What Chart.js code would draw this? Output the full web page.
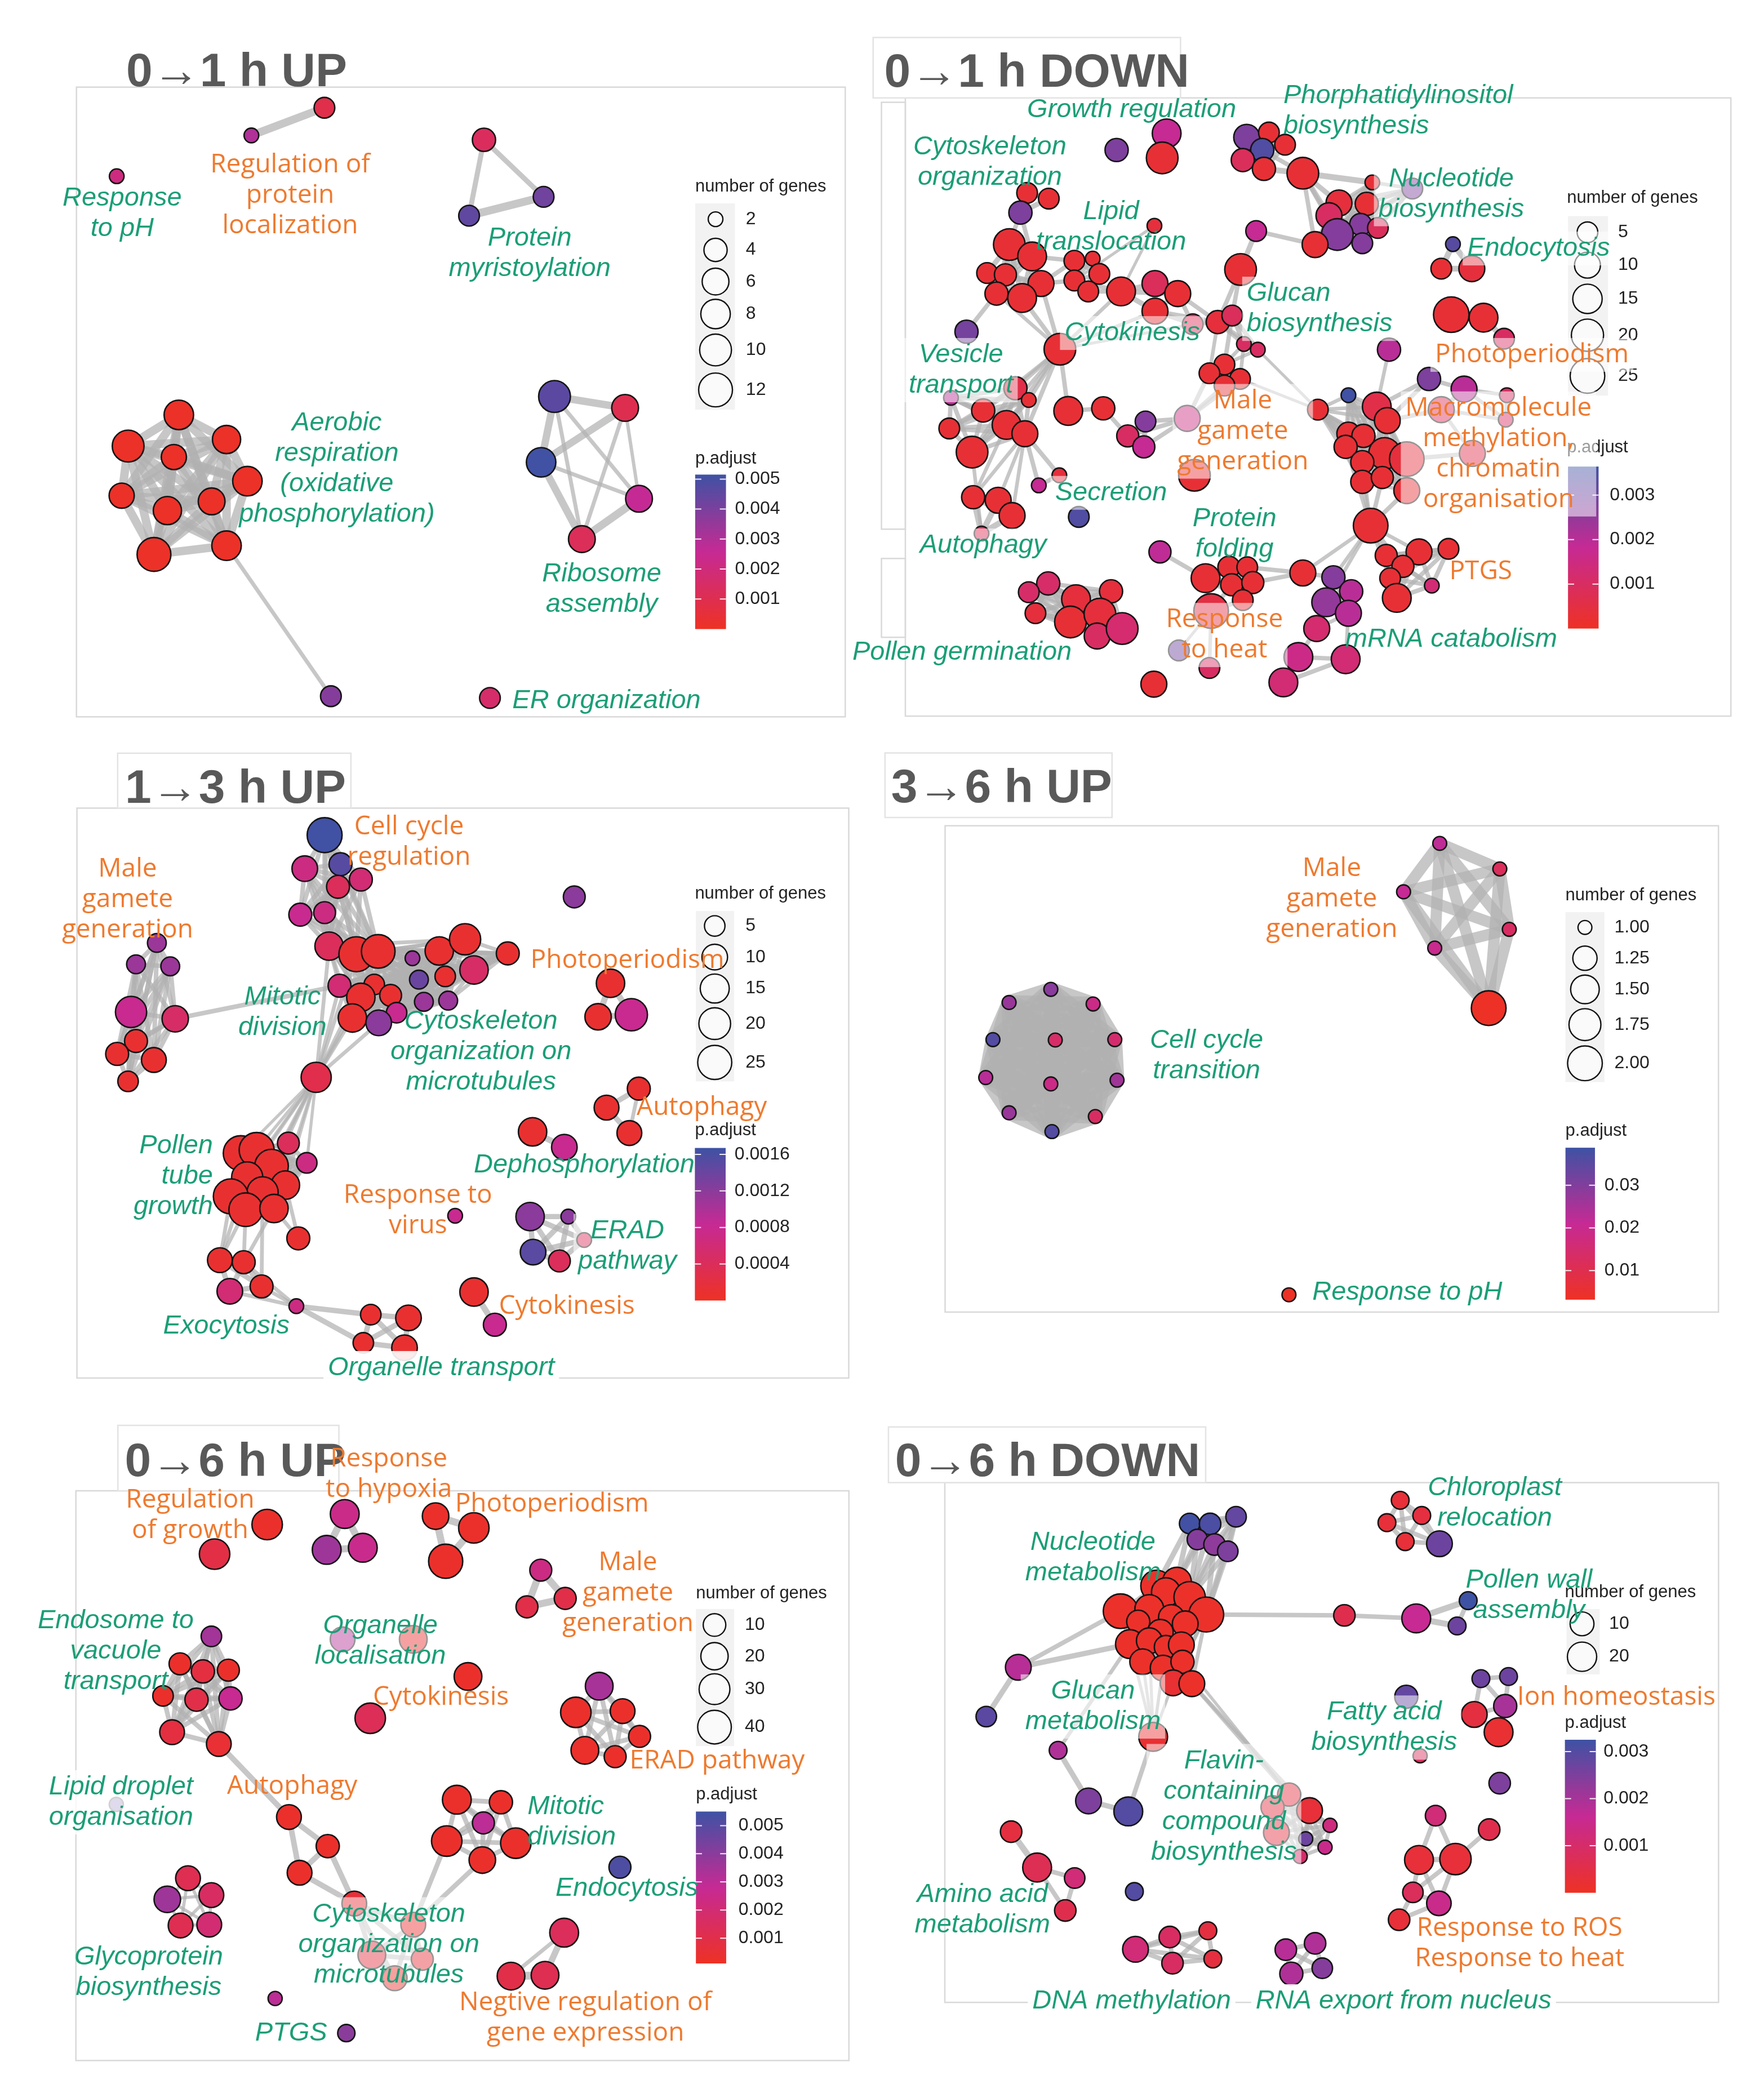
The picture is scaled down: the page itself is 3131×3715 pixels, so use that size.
<!DOCTYPE html>
<html><head><meta charset="utf-8">
<script src="https://cdn.jsdelivr.net/npm/chart.js@4.4.1/dist/chart.umd.min.js"></script>
<style>
html,body{margin:0;padding:0;background:#fff;}
#fig{position:relative;width:3131px;height:3715px;overflow:hidden;background:#fff;}
#fig canvas{position:absolute;}
</style></head><body><div id="fig"></div>
<script>
// ================= DATA =================
// node = [layoutX, layoutY, numberOfGenes, p.adjust]; cliques = [edgeWeight, [members]]; edges = [i, j, weight]
// labels = [text, x, y, class('g' = green italic, 'o' = orange), align, boxAlpha]

// ---- 0→1 h UP ----
const p1Title = "0→1 h UP";
const p1Nodes = [
 [89,323,2,0.0021],[360,230,2,0.0030],[507,167,3,0.0009],[828,240,4,0.0013],[948,370,3,0.0042],[798,413,3,0.0045],
 [214,867,8,0.0001],[112,938,10,0.0001],[310,923,7,0.0001],[204,963,5,0.0001],[352,1018,8,0.0001],
 [99,1051,5,0.0001],[191,1085,7,0.0001],[280,1064,6,0.0001],[164,1185,12,0.0001],[310,1165,8,0.0001],
 [520,1508,3,0.0038],
 [970,825,10,0.0046],[1112,851,6,0.0010],[943,975,8,0.0051],[1140,1058,6,0.0026],[1025,1150,6,0.0012],
 [840,1512,3,0.0016]
];
const p1Cliques = [[15,[6,7,8,9,10,11,12,13,14,15]]];
const p1Edges = [[1,2,14],[3,4,9],[3,5,9],[4,5,14],[15,16,7],
 [17,18,13],[17,19,13],[17,20,7],[17,21,7],[18,19,13],[18,21,7],[18,20,6],[19,20,7],[19,21,13],[20,21,14]];
const p1Labels = [
 ["Response\nto pH",100,373,'g','center',0],
 ["Regulation of\nprotein\nlocalization",438,297,'o','center',0],
 ["Protein\nmyristoylation",920,465,'g','center',0],
 ["Aerobic\nrespiration\n(oxidative\nphosphorylation)",532,885,'g','center',0],
 ["Ribosome\nassembly",1065,1230,'g','center',0],
 ["ER organization",885,1518,'g','left',0]
];
const p1SizeBreaks = [2,4,6,8,10,12];
const p1PBreaks = [0.001,0.002,0.003,0.004,0.005];
const p1PLimits = [0,0.00515];

// ---- 0→1 h DOWN ----
const p2Title = "0→1 h DOWN";
const p2Nodes = [
 [528,224,14,0.0018],[520,280,19,0.0003],[438,262,7,0.0028],[672,233,10,0.0028],[712,222,5,0.0003],[741,250,5,0.0003],
 [700,262,7,0.0034],[665,285,7,0.0009],[703,305,7,0.0003],[773,315,19,0.0003],[898,336,3,0.0003],[970,350,5,0.0028],
 [838,383,10,0.0004],[888,385,7,0.0003],[820,412,10,0.0010],[877,432,6,0.0027],[835,455,19,0.0027],[908,440,5,0.0009],
 [880,475,5,0.0027],[795,478,10,0.0003],[689,447,5,0.0018],[1043,477,3,0.0033],[1022,533,5,0.0003],[1077,533,10,0.0004],
 [1040,638,27,0.0003],[1098,645,14,0.0003],[1135,693,5,0.0010],[277,360,5,0.0003],[316,373,5,0.0003],[265,405,7,0.0028],
 [506,435,3,0.0004],[245,478,19,0.0003],[286,505,14,0.0003],[205,543,5,0.0003],[238,547,6,0.0003],[302,567,10,0.0003],
 [222,590,7,0.0003],[268,600,14,0.0003],[362,515,5,0.0003],[395,510,3,0.0003],[407,545,5,0.0003],[362,560,5,0.0003],
 [387,585,5,0.0003],[446,585,14,0.0003],[507,567,10,0.0009],[548,590,10,0.0003],[507,630,10,0.0003],[575,660,5,0.0008],
 [620,655,7,0.0004],[646,640,5,0.0009],[661,535,19,0.0003],[667,705,3,0.0010],[692,718,3,0.0010],[168,677,7,0.0029],
 [336,717,19,0.0003],[632,752,5,0.0003],[605,772,5,0.0003],[660,785,5,0.0003],[632,800,5,0.0003],[565,875,10,0.0015],
 [490,882,5,0.0027],[458,915,6,0.0010],[487,940,6,0.0018],[414,852,7,0.0003],[351,858,14,0.0003],[256,806,7,0.0006],
 [280,833,3,0.0003],[140,828,3,0.0020],[198,857,7,0.0003],[240,890,14,0.0003],[273,910,10,0.0003],[137,898,5,0.0003],
 [178,952,19,0.0003],[335,1005,3,0.0004],[298,1028,3,0.0018],[370,1100,5,0.0034],[180,1055,7,0.0003],[225,1062,10,0.0003],
 [250,1097,10,0.0003],[195,1138,3,0.0008],[578,1005,19,0.0003],[855,822,3,0.0036],[800,855,5,0.0003],[906,848,14,0.0006],
 [925,880,10,0.0003],[1000,785,7,0.0028],[1063,808,10,0.0020],[1140,822,3,0.0010],[1022,855,10,0.0008],[1138,878,3,0.0010],
 [855,910,7,0.0003],[882,915,7,0.0003],[850,940,7,0.0003],[920,955,19,0.0003],[960,968,25,0.0004],[880,975,7,0.0003],
 [1078,955,10,0.0006],[880,1020,7,0.0003],[916,1010,6,0.0003],[960,1040,10,0.0003],[895,1120,25,0.0003],[1035,1173,5,0.0003],
 [982,1180,10,0.0003],[923,1188,6,0.0003],[953,1213,6,0.0003],[930,1240,5,0.0003],[1005,1257,3,0.0013],[942,1285,14,0.0003],
 [516,1180,6,0.0019],[598,1240,14,0.0003],[640,1215,6,0.0003],[673,1215,5,0.0003],[645,1255,6,0.0003],[683,1250,6,0.0003],
 [665,1290,5,0.0003],[773,1228,10,0.0003],[828,1238,7,0.0027],[860,1270,7,0.0020],[815,1295,14,0.0025],[855,1320,10,0.0020],
 [608,1315,25,0.0005],[550,1405,5,0.0030],[605,1445,5,0.0010],[505,1482,10,0.0003],[798,1355,10,0.0012],[765,1420,14,0.0016],
 [738,1478,14,0.0013],[850,1425,14,0.0013],[315,1252,7,0.0011],[280,1272,5,0.0011],[292,1320,5,0.0004],[365,1288,14,0.0004],
 [428,1270,7,0.0004],[355,1340,19,0.0003],[408,1322,19,0.0004],[403,1372,10,0.0010],[448,1355,19,0.0012],[928,718,7,0.0020]
];
const p2Cliques = [
 [7,[3,4,5,6,7,8]],[5,[10,11,12,13,14,15,16,17,18,19]],[8,[21,22,23]],[7,[27,28,29]],[7,[31,32,33,34,35,36,37]],
 [6,[38,39,40,41,42]],[7,[43,44,45,46]],[6,[47,48,49]],[6,[48,49,51,52]],[6,[55,56,57,58]],[7,[60,61,62]],
 [6,[65,66,67,68,69,70,71,72]],[8,[76,77,78,79]],[5,[81,82,83,84,90,91,92,93,94,95,97,98,99]],
 [6,[101,102,103,104,105,106,107]],[6,[109,110,111,112,113,114]],[6,[116,117,118,119]],[6,[128,129,130,131,132,133,134,135,136]]
];
const p2Edges = [
 [8,9,8],[6,9,6],[9,10,8],[9,12,7],[9,14,7],[9,16,6],[9,19,6],[20,19,6],[20,50,7],[0,1,6],[24,25,8],[25,26,8],
 [29,31,6],[29,32,6],[35,38,6],[35,41,6],[32,38,6],[30,43,4],[30,41,4],[42,43,6],[41,43,6],[45,47,6],[46,47,6],
 [45,48,6],[46,48,6],[49,50,6],[48,50,6],[51,55,5],[52,55,5],[49,55,6],[48,56,5],[51,57,5],[58,59,6],[57,59,6],
 [56,59,6],[59,60,6],[59,61,6],[59,62,6],[61,63,6],[63,64,6],[57,82,4],[52,82,4],[54,37,6],[54,35,6],[54,36,5],
 [54,46,5],[54,43,5],[54,47,4],[54,65,6],[54,66,6],[54,68,5],[54,69,6],[54,70,6],[54,72,5],[54,64,6],[53,36,6],
 [70,73,6],[70,74,6],[73,74,6],[70,76,5],[70,77,5],[70,78,5],[69,76,5],[72,79,5],[85,83,6],[85,84,6],[85,86,6],
 [86,88,6],[86,87,5],[86,89,5],[88,89,5],[88,84,6],[87,89,5],[94,96,6],[96,88,5],[137,83,5],[100,97,6],[100,98,6],
 [100,99,6],[100,95,5],[100,92,5],[100,103,6],[100,104,6],[100,105,6],[100,102,5],[100,115,5],[100,116,5],[100,118,5],
 [108,109,6],[115,113,6],[115,111,6],[115,116,6],[120,109,6],[120,112,6],[120,114,6],[120,122,5],[120,121,4],
 [118,124,6],[124,125,6],[125,126,6],[125,127,6],[126,127,6],[119,124,5],[119,127,5]
];
const p2Labels = [
 ["Growth regulation",465,170,'g','center',0],
 ["Phorphatidylinositol\nbiosynthesis",738,138,'g','left',0],
 ["Cytoskeleton\norganization",210,255,'g','center',0],
 ["Nucleotide\nbiosynthesis",1040,328,'g','center',0.55],
 ["Lipid\ntranslocation",428,403,'g','center',0],
 ["Endocytosis",1197,487,'g','center',0.55],
 ["Glucan\nbiosynthesis",672,590,'g','left',0.55],
 ["Cytokinesis",466,680,'g','center',0.55],
 ["Vesicle\ntransport",158,730,'g','center',0.55],
 ["Photoperiodism",1185,730,'o','center',0.55],
 ["Male\ngamete\ngeneration",665,835,'o','center',0.55],
 ["Macromolecule\nmethylation,\nchromatin\norganisation",1125,852,'o','center',0.55],
 ["Secretion",428,1045,'g','center',0.55],
 ["Protein\nfolding",650,1105,'g','center',0],
 ["Autophagy",198,1165,'g','center',0.55],
 ["PTGS",1093,1225,'o','center',0],
 ["Response\nto heat",632,1335,'o','center',0.55],
 ["mRNA catabolism",1040,1380,'g','center',0],
 ["Pollen germination",160,1410,'g','center',0]
];
const p2SizeBreaks = [5,10,15,20,25];
const p2PBreaks = [0.001,0.002,0.003];
const p2PLimits = [0,0.00364];

// ---- 1→3 h UP ----
const p3Title = "1→3 h UP";
const p3Nodes = [
 [507,215,27,0.00165],[539,287,7,0.00152],[467,298,10,0.0007],[580,325,7,0.0006],[534,343,7,0.0004],[458,412,7,0.0008],
 [507,407,6,0.0007],[516,490,14,0.0004],[571,510,27,0.0001],[615,503,24,0.0001],[684,520,3,0.0011],[738,502,14,0.0001],
 [790,473,19,0.0001],[876,508,7,0.0001],[537,588,7,0.0006],[607,585,5,0.0001],[697,573,4,0.0014],[750,565,5,0.0001],
 [808,549,14,0.0005],[580,617,14,0.0001],[640,612,6,0.0001],[707,628,4,0.0011],[756,625,4,0.0011],[563,668,14,0.0001],
 [652,655,5,0.0008],[616,680,10,0.0012],[490,815,17,0.0003],[1010,368,6,0.0012],[169,482,4,0.0011],[127,535,4,0.0011],
 [196,540,4,0.0011],[117,653,19,0.0008],[206,670,11,0.0005],[127,725,7,0.0001],[89,757,7,0.0001],[163,772,9,0.0001],
 [111,825,5,0.0001],[1083,582,14,0.0001],[1058,665,11,0.0001],[1125,660,21,0.0008],[338,1003,27,0.0001],[370,995,27,0.0001],
 [400,1035,24,0.0001],[351,1063,19,0.0001],[428,1082,14,0.0001],[382,1100,19,0.0001],[318,1110,27,0.0001],[348,1143,24,0.0001],
 [405,1140,14,0.0001],[434,978,6,0.0004],[471,1027,5,0.0007],[454,1214,7,0.0001],[296,1268,9,0.0001],[344,1273,7,0.0001],
 [316,1345,10,0.0006],[380,1333,7,0.0001],[450,1382,3,0.0007],[600,1403,5,0.0001],[676,1411,10,0.0001],[585,1473,5,0.0001],
 [668,1485,10,0.0001],[1140,843,7,0.0001],[1075,890,9,0.0001],[1121,953,9,0.0001],[926,950,14,0.0001],[990,988,10,0.0008],
 [770,1158,3,0.0008],[921,1160,14,0.0012],[998,1160,3,0.0012],[927,1248,10,0.0015],[980,1270,6,0.0004],[1030,1218,3,0.0004],
 [808,1347,14,0.0001],[850,1428,7,0.0008]
];
const p3Cliques = [
 [6,[0,1,2,3,4,5,6,7,8,9]],[5,[7,8,9,10,11,12,13,14,15,16,17,18,19,20,21,22,23,24,25]],
 [6,[28,29,30,31,32,33,34,35,36]],[8,[37,38,39]],[6,[40,41,42,43,44,45,46,47,48,49,50]],
 [7,[52,53,54,55]],[7,[57,58,59,60]],[7,[67,68,69,70,71]]
];
const p3Edges = [
 [26,7,5],[26,8,5],[26,14,5],[26,19,5],[26,23,5],[26,25,5],[26,9,5],[26,40,4],[26,41,4],[26,42,4],[26,43,4],
 [26,44,4],[26,45,4],[26,46,4],[26,47,4],[26,48,4],[26,50,4],[32,14,6],[47,52,5],[47,53,5],[46,52,5],[48,51,5],
 [48,53,5],[43,52,5],[45,55,5],[44,51,5],[55,56,5],[53,56,5],[54,56,5],[56,57,7],[56,59,7],[61,62,7],[62,63,7],
 [61,63,5],[64,65,8],[72,73,8]
];
const p3Labels = [
 ["Cell cycle\nregulation",677,195,'o','center',0],
 ["Male\ngamete\ngeneration",110,300,'o','center',0],
 ["Photoperiodism",1117,525,'o','center',0],
 ["Mitotic\ndivision",422,617,'g','center',0],
 ["Cytoskeleton\norganization on\nmicrotubules",822,677,'g','center',0],
 ["Autophagy",1267,890,'o','center',0],
 ["Pollen\ntube\ngrowth",282,985,'g','right',0],
 ["Dephosphorylation",1030,1032,'g','center',0],
 ["Response to\nvirus",695,1107,'o','center',0],
 ["ERAD\npathway",1117,1195,'g','center',0.55],
 ["Cytokinesis",995,1383,'o','center',0],
 ["Exocytosis",309,1432,'g','center',0],
 ["Organelle transport",742,1535,'g','center',0.9]
];
const p3SizeBreaks = [5,10,15,20,25];
const p3PBreaks = [0.0004,0.0008,0.0012,0.0016];
const p3PLimits = [0,0.00167];

// ---- 3→6 h UP ----
const p4Title = "3→6 h UP";
const p4Nodes = [
 [320,643,1,0.029],[245,678,1,0.027],[396,682,1,0.019],[216,777,1,0.036],[328,778,1,0.014],[435,777,1,0.015],
 [203,878,1,0.023],[320,895,1,0.019],[439,885,1,0.026],[245,972,1,0.027],[400,982,1,0.013],[322,1022,1,0.036],
 [1019,254,1,0.022],[1127,322,1,0.012],[954,383,1,0.021],[1144,483,1,0.013],[1010,533,1,0.020],[1107,693,2,0.0035],
 [748,1457,1,0.0035]
];
const p4Cliques = [[26,[0,1,2,3,4,5,6,7,8,9,10,11]],[20,[12,13,14,15,16,17]]];
const p4Edges = [];
const p4Labels = [
 ["Male\ngamete\ngeneration",825,322,'o','center',0],
 ["Cell cycle\ntransition",600,780,'g','center',0],
 ["Response to pH",790,1450,'g','left',0]
];
const p4SizeBreaks = [1,1.25,1.5,1.75,2];
const p4PBreaks = [0.01,0.02,0.03];
const p4PLimits = [0.0032,0.0388];

// ---- 0→6 h UP ----
const p5Title = "0→6 h UP";
const p5Nodes = [
 [468,265,29,0.0003],[369,335,29,0.0009],[614,240,24,0.0025],[580,325,24,0.0036],[648,320,24,0.0026],[785,245,18,0.0003],
 [857,273,29,0.0003],[804,352,42,0.0003],[983,373,9,0.0024],[957,460,9,0.0010],[1029,440,9,0.0010],[363,530,7,0.0035],
 [304,595,9,0.0003],[347,613,11,0.0008],[395,610,9,0.0003],[272,671,7,0.0003],[335,680,11,0.0010],[399,677,11,0.0027],
 [289,757,14,0.0008],[377,785,14,0.0005],[610,537,14,0.0032],[743,537,21,0.0004],[846,625,21,0.0003],[662,724,29,0.0013],
 [1093,648,21,0.0034],[1049,710,29,0.0003],[1137,707,14,0.0003],[1169,767,9,0.0003],[1066,800,21,0.0003],[1123,815,9,0.0003],
 [184,928,3,0.0048],[509,958,14,0.0003],[582,1027,11,0.0003],[529,1090,14,0.0003],[632,1163,14,0.0006],[743,1213,14,0.0004],
 [665,1285,21,0.0008],[760,1295,9,0.0006],[708,1340,14,0.0003],[825,917,24,0.0003],[908,923,11,0.0003],[875,972,9,0.0030],
 [806,1015,29,0.0003],[936,1020,29,0.0003],[873,1060,18,0.0003],[1132,1077,9,0.0052],[319,1103,14,0.0012],[280,1153,18,0.0036],
 [363,1143,14,0.0016],[305,1215,14,0.0012],[359,1213,14,0.0020],[483,1388,3,0.0030],[617,1470,4,0.0040],[1027,1232,24,0.0014],
 [927,1335,21,0.0010],[991,1333,21,0.0012]
];
const p5Cliques = [
 [9,[2,3,4]],[9,[5,6,7]],[9,[8,9,10]],[6,[11,12,13,14,15,16,17,18,19]],[7,[31,32,33]],[6,[34,35,36,37,38]],
 [6,[39,40,41,42,43,44]],[6,[24,25,26,27,28,29]],[4,[46,47,48,49,50]]
];
const p5Edges = [[19,31,7],[32,34,7],[33,34,7],[35,42,6],[35,44,6],[53,54,5],[53,55,8],[54,55,10]];
const p5Labels = [
 ["Response\nto hypoxia",697,110,'o','center',0],
 ["Regulation\nof growth",323,208,'o','center',0],
 ["Photoperiodism",1004,217,'o','center',0],
 ["Male\ngamete\ngeneration",1147,355,'o','center',0],
 ["Endosome to\nvacuole\ntransport",183,493,'g','center',0],
 ["Organelle\nlocalisation",681,505,'g','center',0.55],
 ["Cytokinesis",795,675,'o','center',0],
 ["ERAD pathway",1315,825,'o','center',0],
 ["Lipid droplet\norganisation",193,887,'g','center',0.8],
 ["Autophagy",515,885,'o','center',0],
 ["Mitotic\ndivision",958,933,'g','left',0],
 ["Endocytosis",1145,1127,'g','center',0],
 ["Cytoskeleton\norganization on\nmicrotubules",697,1188,'g','center',0.55],
 ["Glycoprotein\nbiosynthesis",245,1290,'g','center',0],
 ["PTGS",513,1470,'g','center',0],
 ["Negtive regulation of\ngene expression",1067,1398,'o','center',0]
];
const p5SizeBreaks = [10,20,30,40];
const p5PBreaks = [0.001,0.002,0.003,0.004,0.005];
const p5PLimits = [0.0001,0.0055];

// ---- 0→6 h DOWN ----
const p6Title = "0→6 h DOWN";
const p6Nodes = [
 [503,410,25,0.0001],[540,400,19,0.0001],[520,425,19,0.0001],[563,437,25,0.0001],[438,470,34,0.0001],[490,465,19,0.0001],
 [530,485,13,0.0001],[593,478,35,0.0001],[470,495,9,0.0001],[510,520,13,0.0001],[555,500,13,0.0001],[455,548,19,0.0001],
 [490,540,13,0.0001],[520,555,9,0.0001],[548,550,13,0.0001],[478,590,13,0.0001],[515,605,13,0.0001],[550,590,9,0.0001],
 [533,640,13,0.0002],[567,642,13,0.0001],
 [563,262,6,0.0032],[600,263,7,0.0031],[647,246,6,0.0028],[577,300,6,0.0024],[608,312,7,0.0023],[632,328,6,0.0025],
 [253,603,13,0.0018],[195,720,6,0.0029],[497,768,19,0.0002],[325,800,4,0.0019],[380,920,13,0.0025],[452,945,19,0.0030],
 [743,905,9,0.0004],[713,935,9,0.0004],[780,943,13,0.0003],[817,978,3,0.0013],[720,995,13,0.0004],[773,1010,3,0.0027],
 [808,1030,3,0.0015],[763,1052,3,0.0010],[240,993,7,0.0004],[287,1078,19,0.0007],[355,1103,6,0.0012],[338,1180,7,0.0006],
 [463,1135,4,0.0030],[465,1272,13,0.0012],[527,1243,7,0.0009],[596,1228,4,0.0004],[532,1305,7,0.0009],[605,1295,4,0.0004],
 [737,1273,7,0.0018],[790,1258,7,0.0019],[747,1330,9,0.0019],[803,1317,6,0.0024],[944,207,4,0.0003],[983,243,4,0.0004],
 [920,260,4,0.0003],[953,305,4,0.0003],[1015,310,13,0.0027],[843,480,7,0.0006],[973,487,19,0.0016],[1067,445,4,0.0033],
 [1047,505,4,0.0027],[955,673,9,0.0028],[980,813,3,0.0008],[1090,630,4,0.0027],[1140,625,4,0.0027],[1134,695,9,0.0020],
 [1078,715,13,0.0004],[1122,757,19,0.0002],[1124,878,7,0.0025],[1008,955,6,0.0012],[1105,988,7,0.0006],[978,1060,19,0.0003],
 [1044,1058,25,0.0003],[967,1137,6,0.0008],[1014,1163,11,0.0015],[942,1202,7,0.0003]
];
const p6Cliques = [
 [5,[0,1,2,3,4,5,6,7,8,9,10,11,12,13,14,15,16,17,18,19]],[7,[20,21,22,23,24,25]],[5,[32,33,34,35,36,37,38,39]],
 [6,[45,46,47,48,49]],[6,[50,51,52,53]],[6,[54,55,56,57,58]]
];
const p6Edges = [
 [20,0,7],[20,1,7],[21,1,7],[21,3,7],[23,3,7],[24,3,7],[25,3,7],[22,7,7],[25,7,7],[23,1,7],[24,7,7],[22,3,7],
 [7,59,6],[59,60,6],[60,61,8],[60,62,8],[61,62,6],[11,26,7],[4,26,6],[26,27,7],[15,28,4],[16,28,4],[18,28,4],
 [11,28,4],[13,28,4],[12,28,4],[28,31,6],[29,30,7],[30,31,7],[29,11,5],[19,32,5],[19,34,5],[17,32,4],
 [40,41,8],[41,42,6],[41,43,6],[42,43,6],[65,66,6],[65,67,6],[66,67,6],[65,68,6],[67,68,6],[67,69,6],[68,69,6],
 [71,73,6],[71,74,6],[72,74,6],[73,74,7],[73,75,6],[73,76,6],[74,75,6],[74,76,6],[75,76,6],[75,77,6],[76,77,6]
];
const p6Labels = [
 ["Nucleotide\nmetabolism",388,307,'g','center',0],
 ["Chloroplast\nrelocation",1115,177,'g','center',0],
 ["Pollen wall\nassembly",1177,397,'g','center',0],
 ["Glucan\nmetabolism",388,660,'g','center',0.55],
 ["Fatty acid\nbiosynthesis",915,710,'g','center',0.55],
 ["Ion homeostasis",1335,675,'o','center',0],
 ["Flavin-\ncontaining\ncompound\nbiosynthesis",625,825,'g','center',0.55],
 ["Amino acid\nmetabolism",188,1143,'g','center',0],
 ["Response to ROS\nResponse to heat",1160,1222,'o','center',0],
 ["DNA methylation",458,1395,'g','center',0.9],
 ["RNA export from nucleus",950,1395,'g','center',0.9]
];
const p6SizeBreaks = [10,20];
const p6PBreaks = [0.001,0.002,0.003];
const p6PLimits = [0,0.00325];

// ================= LAYOUT / STYLE =================
const W = 3131, H = 3715, Z = 1568, LINE = 54;
const GREEN = '#1B9E77', ORANGE = '#EE7A2F';
const FONT_G = 'italic 47px "Liberation Sans", Arial, sans-serif';
const FONT_O = '46px "Open Sans", "Noto Sans", sans-serif';
const EDGE_COLOR = 'rgba(178,178,178,0.72)';
const STOPS = [[238,49,36],[198,42,148],[62,82,164]];
function colorAt(t){
  t = Math.max(0, Math.min(1, t));
  const a = t < 0.5 ? STOPS[0] : STOPS[1], b = t < 0.5 ? STOPS[1] : STOPS[2];
  const u = t < 0.5 ? t*2 : (t-0.5)*2;
  return 'rgb(' + a.map((v,i)=>Math.round(v+(b[i]-v)*u)).join(',') + ')';
}

const styles = [
 {crop:{x:100,y:30,w:1440,h:1280}, frame:[8,120,1555,1555], rects:[], titleBox:null, titleAt:[108,118], r:[13,30], ew:1.0,
  lg:{st:[1253,347], bg:[1253,385,1333,855], kx:1294, ky:[421,491,563,637,719,810], lx:1355, pt:[1253,967], bar:[1253,1003,1315,1355], plx:1333, sdec:0, pdec:3}},
 {crop:{x:1520,y:30,w:1611,h:1280}, frame:[58,143,1543,1555], rects:[[15,153,58,1128],[15,1195,58,1375]], titleBox:[0,5,553,143], titleAt:[20,118], r:[13,31.5], ew:1.3,
  lg:{st:[1248,372], bg:[1250,413,1322,823], kx:1285, ky:[450,525,602,685,778], lx:1340, pt:[1248,942], bar:[1250,985,1305,1355], plx:1325, sdec:0, pdec:3}},
 {crop:{x:100,y:1300,w:1440,h:1180}, frame:[8,148,1563,1560], rects:[], titleBox:[90,12,560,148], titleAt:[105,135], r:[13,31], ew:1.35,
  lg:{st:[1253,360], bg:[1255,403,1332,825], kx:1293, ky:[440,517,595,682,778], lx:1355, pt:[1253,947], bar:[1253,990,1315,1368], plx:1333, sdec:0, pdec:4}},
 {crop:{x:1520,y:1300,w:1611,h:1100}, frame:[130,207,1520,1503], rects:[], titleBox:[22,13,430,185], titleAt:[33,145], r:[12.3,30.8], ew:1.0,
  lg:{st:[1245,393], bg:[1245,437,1315,890], kx:1280, ky:[478,560,643,737,840], lx:1333, pt:[1245,1020], bar:[1245,1065,1298,1470], plx:1315, sdec:2, pdec:2}},
 {crop:{x:0,y:2480,w:1540,h:1235}, frame:[108,185,1563,1535], rects:[], titleBox:[187,30,603,185], titleAt:[200,150], r:[12.5,30.3], ew:1.4,
  lg:{st:[1275,428], bg:[1275,465,1347,790], kx:1310, ky:[503,577,655,745], lx:1367, pt:[1275,905], bar:[1275,945,1332,1305], plx:1355, sdec:0, pdec:3}},
 {crop:{x:1530,y:2480,w:1601,h:1235}, frame:[120,165,1520,1398], rects:[], titleBox:[18,33,592,165], titleAt:[30,150], r:[12.5,31], ew:1.35,
  lg:{st:[1242,425], bg:[1245,465,1305,620], kx:1273, ky:[500,578], lx:1322, pt:[1242,735], bar:[1242,775,1298,1138], plx:1312, sdec:0, pdec:3}}
];

const panels = [
 {title:p1Title, nodes:p1Nodes, cliques:p1Cliques, edges:p1Edges, labels:p1Labels, sb:p1SizeBreaks, pb:p1PBreaks, pl:p1PLimits},
 {title:p2Title, nodes:p2Nodes, cliques:p2Cliques, edges:p2Edges, labels:p2Labels, sb:p2SizeBreaks, pb:p2PBreaks, pl:p2PLimits},
 {title:p3Title, nodes:p3Nodes, cliques:p3Cliques, edges:p3Edges, labels:p3Labels, sb:p3SizeBreaks, pb:p3PBreaks, pl:p3PLimits},
 {title:p4Title, nodes:p4Nodes, cliques:p4Cliques, edges:p4Edges, labels:p4Labels, sb:p4SizeBreaks, pb:p4PBreaks, pl:p4PLimits},
 {title:p5Title, nodes:p5Nodes, cliques:p5Cliques, edges:p5Edges, labels:p5Labels, sb:p5SizeBreaks, pb:p5PBreaks, pl:p5PLimits},
 {title:p6Title, nodes:p6Nodes, cliques:p6Cliques, edges:p6Edges, labels:p6Labels, sb:p6SizeBreaks, pb:p6PBreaks, pl:p6PLimits}
];

function buildPanel(d, s){
  const fig = document.getElementById('fig');
  const m = 110, c = s.crop;
  const x0 = Math.max(0, c.x - m), y0 = Math.max(0, c.y - m);
  const x1 = Math.min(W, c.x + c.w + m), y1 = Math.min(H, c.y + c.h + m);
  const cv = document.createElement('canvas');
  cv.width = x1 - x0; cv.height = y1 - y0;
  cv.style.left = x0 + 'px'; cv.style.top = y0 + 'px';
  cv.style.width = (x1 - x0) + 'px'; cv.style.height = (y1 - y0) + 'px';
  fig.appendChild(cv);
  const zx = v => (v - c.x) * Z / c.w, zy = v => (v - c.y) * Z / c.h;

  const gs = d.nodes.map(n => n[2]);
  const gmin = Math.min(...gs), gmax = Math.max(...gs);
  const rad = g => s.r[0] + (s.r[1] - s.r[0]) * Math.sqrt(Math.max(0, Math.min(1, (g - gmin) / (gmax - gmin))));
  const pcol = p => colorAt((p - d.pl[0]) / (d.pl[1] - d.pl[0]));

  const edgePts = [];
  const add = (i, j, w) => {
    const a = d.nodes[i], b = d.nodes[j];
    edgePts.push({x:a[0], y:a[1], w:w * s.ew}, {x:b[0], y:b[1], w:w * s.ew}, {x:null, y:null, w:0});
  };
  d.cliques.forEach(([w, ids]) => { for (let i = 0; i < ids.length; i++) for (let j = i+1; j < ids.length; j++) add(ids[i], ids[j], w); });
  d.edges.forEach(([i, j, w]) => add(i, j, w));

  const nodePts = d.nodes.map(n => ({x:n[0], y:n[1], g:n[2], p:n[3]}));

  const plug = {
    id: 'netdeco',
    beforeDatasetsDraw(chart){
      const ctx = chart.ctx, X = v => chart.scales.x.getPixelForValue(v), Y = v => chart.scales.y.getPixelForValue(v);
      ctx.save();
      ctx.strokeStyle = '#d9d9d9'; ctx.lineWidth = 2.5;
      const f = s.frame;
      ctx.strokeRect(X(f[0]), Y(f[1]), X(f[2]) - X(f[0]), Y(f[3]) - Y(f[1]));
      s.rects.forEach(r => ctx.strokeRect(X(r[0]), Y(r[1]), X(r[2]) - X(r[0]), Y(r[3]) - Y(r[1])));
      if (s.titleBox){
        const t = s.titleBox;
        ctx.fillStyle = '#fff';
        ctx.fillRect(X(t[0]), Y(t[1]), X(t[2]) - X(t[0]), Y(t[3]) - Y(t[1]));
        ctx.strokeStyle = '#e3e3e3';
        ctx.strokeRect(X(t[0]), Y(t[1]), X(t[2]) - X(t[0]), Y(t[3]) - Y(t[1]));
      }
      ctx.fillStyle = '#595959';
      ctx.font = 'bold 84px "Liberation Sans", Arial, sans-serif';
      ctx.textAlign = 'left'; ctx.textBaseline = 'alphabetic';
      ctx.fillText(d.title, X(s.titleAt[0]), Y(s.titleAt[1]));
      ctx.restore();
    },
    afterDatasetsDraw(chart){
      const ctx = chart.ctx, X = v => chart.scales.x.getPixelForValue(v), Y = v => chart.scales.y.getPixelForValue(v);
      const L = s.lg;
      ctx.save();
      ctx.fillStyle = '#222'; ctx.font = '31px "Liberation Sans", Arial, sans-serif';
      ctx.textAlign = 'left'; ctx.textBaseline = 'middle';
      ctx.fillText('number of genes', X(L.st[0]), Y(L.st[1]));
      ctx.fillStyle = '#f2f2f2';
      ctx.fillRect(X(L.bg[0]), Y(L.bg[1]), X(L.bg[2]) - X(L.bg[0]), Y(L.bg[3]) - Y(L.bg[1]));
      d.sb.forEach((g, i) => {
        ctx.beginPath(); ctx.arc(X(L.kx), Y(L.ky[i]), rad(g), 0, Math.PI*2);
        ctx.fillStyle = '#fafafa'; ctx.fill();
        ctx.lineWidth = 2.4; ctx.strokeStyle = '#111'; ctx.stroke();
        ctx.fillStyle = '#222'; ctx.font = '32px "Liberation Sans", Arial, sans-serif';
        ctx.fillText(g.toFixed(L.sdec), X(L.lx), Y(L.ky[i]));
      });
      ctx.font = '31px "Liberation Sans", Arial, sans-serif';
      ctx.fillText('p.adjust', X(L.pt[0]), Y(L.pt[1]));
      const bx0 = X(L.bar[0]), bx1 = X(L.bar[2]), byT = Y(L.bar[1]), byB = Y(L.bar[3]);
      const grd = ctx.createLinearGradient(0, byB, 0, byT);
      for (let k = 0; k <= 10; k++) grd.addColorStop(k/10, colorAt(k/10));
      ctx.fillStyle = grd; ctx.fillRect(bx0, byT, bx1 - bx0, byB - byT);
      d.pb.forEach(v => {
        const yy = byB + (v - d.pl[0]) / (d.pl[1] - d.pl[0]) * (byT - byB);
        ctx.strokeStyle = 'rgba(255,255,255,0.9)'; ctx.lineWidth = 2;
        const tw = (bx1 - bx0) * 0.2;
        ctx.beginPath(); ctx.moveTo(bx0, yy); ctx.lineTo(bx0 + tw, yy); ctx.moveTo(bx1 - tw, yy); ctx.lineTo(bx1, yy); ctx.stroke();
        ctx.fillStyle = '#222'; ctx.font = '32px "Liberation Sans", Arial, sans-serif';
        ctx.fillText(v.toFixed(L.pdec), X(L.plx), yy);
      });
      d.labels.forEach(([text, lx, ly, cls, align, box]) => {
        const lines = text.split('\n');
        ctx.font = cls === 'g' ? FONT_G : FONT_O;
        const px = X(lx), py = Y(ly);
        if (box > 0){
          const wmax = Math.max(...lines.map(t => ctx.measureText(t).width));
          const left = align === 'left' ? px : align === 'right' ? px - wmax : px - wmax/2;
          ctx.fillStyle = 'rgba(255,255,255,' + box + ')';
          ctx.fillRect(left - 8, py - 30, wmax + 16, (lines.length - 1) * LINE + 60);
        }
        ctx.fillStyle = cls === 'g' ? GREEN : ORANGE;
        ctx.textAlign = align; ctx.textBaseline = 'middle';
        lines.forEach((t, i) => ctx.fillText(t, px, py + i * LINE));
      });
      ctx.restore();
    }
  };

  new Chart(cv, {
    type: 'scatter',
    data: { datasets: [
      { label:'terms', data: nodePts, order: 0,
        pointRadius: ctx => ctx.raw ? rad(ctx.raw.g) : 0,
        pointHoverRadius: ctx => ctx.raw ? rad(ctx.raw.g) : 0,
        pointBackgroundColor: ctx => ctx.raw ? pcol(ctx.raw.p) : '#000',
        pointBorderColor: '#141414', pointBorderWidth: 2.6, pointHoverBorderWidth: 2.6 },
      { label:'similarity', data: edgePts, order: 1, showLine: true, spanGaps: false, pointRadius: 0, pointHoverRadius: 0,
        borderColor: EDGE_COLOR, borderWidth: 6, borderCapStyle: 'butt',
        segment: { borderWidth: ctx => edgePts[ctx.p0DataIndex] ? edgePts[ctx.p0DataIndex].w : 6 } }
    ]},
    options: {
      responsive: false, animation: false, devicePixelRatio: 1, events: [],
      layout: { padding: 0 },
      scales: {
        x: { type:'linear', display:false, min: zx(x0), max: zx(x1) },
        y: { type:'linear', display:false, reverse:true, min: zy(y0), max: zy(y1) }
      },
      plugins: { legend: { display:false }, tooltip: { enabled:false } }
    },
    plugins: [plug]
  });
}

panels.forEach((d, i) => buildPanel(d, styles[i]));
</script></body></html>
